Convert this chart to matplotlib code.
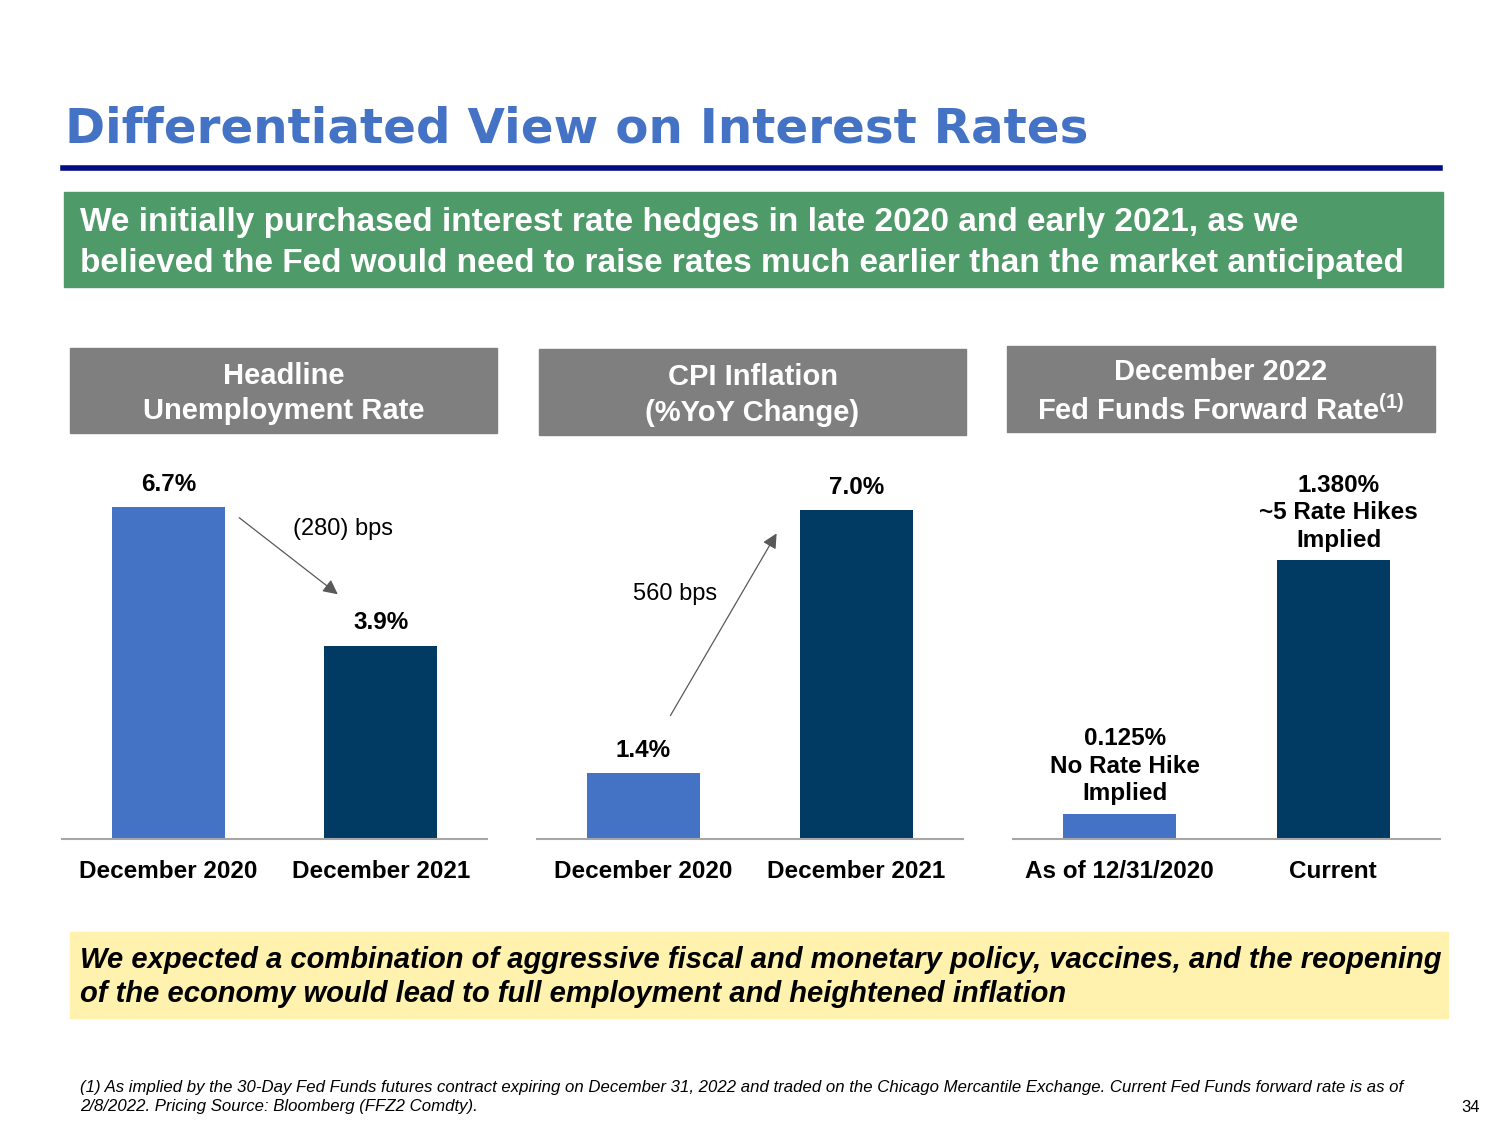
import matplotlib
matplotlib.use("Agg")
import matplotlib.pyplot as plt
from matplotlib.patches import Rectangle

plt.rcParams['font.family'] = ['Liberation Sans', 'DejaVu Sans']

# data
unemp_labels = ["December 2020", "December 2021"]
unemp_values = [6.7, 3.9]
cpi_labels = ["December 2020", "December 2021"]
cpi_values = [1.4, 7.0]
ffr_labels = ["As of 12/31/2020", "Current"]
ffr_values = [0.125, 1.380]
ffr_notes = ["0.125%\nNo Rate Hike\nImplied", "1.380%\n~5 Rate Hikes\nImplied"]

LIGHT = "#4472C4"
DARK = "#013A62"
GREY_BOX = "#7F7F7F"

W, H = 1500, 1125
fig = plt.figure(figsize=(15, 11.25), dpi=100)


def fx(px):
    return px / W


def fy(py):
    return 1 - py / H


def box(x0, y0, x1, y1, color):
    fig.patches.append(Rectangle((fx(x0), fy(y1)), fx(x1 - x0), (y1 - y0) / H,
                                 transform=fig.transFigure, color=color, zorder=0))


# title and rule
fig.text(fx(65), fy(129), "Differentiated View on Interest Rates", color="#4472C4",
         fontsize=34.8, fontweight="bold", family="DejaVu Sans", va="center", ha="left")
fig.add_artist(plt.Line2D([fx(63), fx(1440)], [fy(168), fy(168)], color="#000C85", lw=4))

# green banner
box(64, 192, 1443, 287, "#4F9A69")
fig.text(fx(80), fy(243), "We initially purchased interest rate hedges in late 2020 and early 2021, as we\n"
         "believed the Fed would need to raise rates much earlier than the market anticipated",
         color="white", fontsize=24, fontweight="bold", va="center", ha="left", linespacing=1.38)

# panel headers
headers = [((70, 348, 497, 433), "Headline\nUnemployment Rate"),
           ((539, 349, 966, 435), "CPI Inflation\n(%YoY Change)"),
           ((1007, 346, 1435, 432), "December 2022\nFed Funds Forward Rate$^{\\mathregular{(1)}}$")]
for (x0, y0, x1, y1), txt in headers:
    box(x0, y0, x1, y1, GREY_BOX)
    fig.text(fx((x0 + x1) / 2), fy((y0 + y1) / 2 + 3), txt, color="white", fontsize=21,
             fontweight="bold", ha="center", va="center", linespacing=1.35)


def panel(x0, x1, labels, values, ytop, texts, dx=0, dy=8, ls=1.3):
    ax = fig.add_axes([fx(x0), fy(839), fx(x1 - x0), (839 - 460) / H])
    ax.bar([0, 1], values, width=0.53, color=[LIGHT, DARK])
    ax.set_xlim(-0.5, 1.5)
    ax.set_ylim(0, ytop)
    for s in ["top", "right", "left"]:
        ax.spines[s].set_visible(False)
    ax.spines["bottom"].set_color("#A6A6A6")
    ax.spines["bottom"].set_linewidth(1.5)
    ax.set_yticks([])
    ax.set_xticks([0, 1])
    ax.set_xticklabels(labels, fontsize=17.5, fontweight="bold")
    ax.tick_params(axis="x", length=0, pad=15)
    for i, (v, t) in enumerate(zip(values, texts)):
        ax.annotate(t, xy=(i, v), xytext=(dx, dy), textcoords="offset points",
                    ha="center", va="bottom", fontsize=17.5, fontweight="bold",
                    linespacing=ls, annotation_clip=False)
    return ax


ax1 = panel(62, 487, unemp_labels, unemp_values, 7.64, [f"{v:.1f}%" for v in unemp_values])
ax2 = panel(537, 963, cpi_labels, cpi_values, 8.06, [f"{v:.1f}%" for v in cpi_values])
ax3 = panel(1013, 1440, ffr_labels, ffr_values, 1.876, ffr_notes, dx=4, dy=6, ls=1.26)

arrow = dict(arrowstyle="-|>", color="#595959", lw=0.9, mutation_scale=22)
ax1.annotate("", xy=((340 - 62) / 425, (839 - 596) / 379), xytext=((237 - 62) / 425, (839 - 516) / 379),
             xycoords="axes fraction", textcoords="axes fraction", arrowprops=arrow)
ax1.text((343 - 62) / 425, (839 - 529) / 379, "(280) bps", transform=ax1.transAxes,
         fontsize=17, ha="center", va="center")
ax2.annotate("", xy=((778 - 537) / 426, (839 - 531) / 379), xytext=((669 - 537) / 426, (839 - 718) / 379),
             xycoords="axes fraction", textcoords="axes fraction", arrowprops=arrow)
ax2.text((675 - 537) / 426, (839 - 594) / 379, "560 bps", transform=ax2.transAxes,
         fontsize=17, ha="center", va="center")

# yellow banner
box(70, 932, 1448, 1018, "#FFF2AF")
fig.text(fx(80), fy(977), "We expected a combination of aggressive fiscal and monetary policy, vaccines, and the reopening\n"
         "of the economy would lead to full employment and heightened inflation",
         fontsize=21, fontweight="bold", fontstyle="italic", ha="left", va="center", linespacing=1.3)

# footnote
fig.text(fx(80), fy(1097), "(1) As implied by the 30-Day Fed Funds futures contract expiring on December 31, 2022 and traded "
         "on the Chicago Mercantile Exchange. Current Fed Funds forward rate is as of\n"
         "2/8/2022. Pricing Source: Bloomberg (FFZ2 Comdty).",
         fontsize=12.1, fontstyle="italic", ha="left", va="center", linespacing=1.3)
fig.text(fx(1480), fy(1107), "34", fontsize=12, ha="right", va="center")

fig.savefig("out.png", dpi=100)
